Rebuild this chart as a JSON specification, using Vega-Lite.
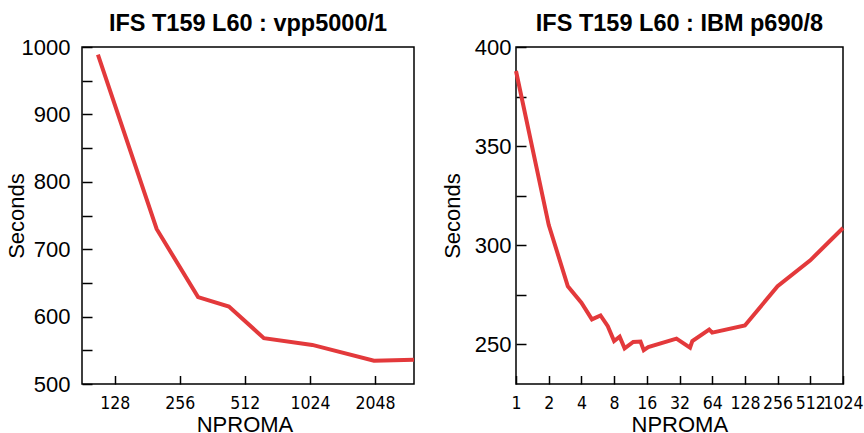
{
  "$schema": "https://vega.github.io/schema/vega-lite/v6.json",
  "autosize": {"type": "pad"},
  "padding": {"left": 4, "top": 10, "right": 0, "bottom": 0},
  "background": "white",
  "bounds": "flush",
  "spacing": 102,
  "datasets": {
    "vpp": [
      {"nproma": 107, "seconds": 988.6},
      {"nproma": 200, "seconds": 730},
      {"nproma": 311, "seconds": 629},
      {"nproma": 432, "seconds": 615},
      {"nproma": 627, "seconds": 568},
      {"nproma": 1050, "seconds": 558},
      {"nproma": 2026, "seconds": 534.6},
      {"nproma": 3104, "seconds": 536}
    ],
    "ibm": [
      {"nproma": 1, "seconds": 387.9},
      {"nproma": 2, "seconds": 310.3},
      {"nproma": 3, "seconds": 279.3},
      {"nproma": 4, "seconds": 271},
      {"nproma": 5, "seconds": 262.6},
      {"nproma": 6, "seconds": 264.6},
      {"nproma": 7, "seconds": 259.2},
      {"nproma": 8, "seconds": 251.7},
      {"nproma": 9, "seconds": 253.9},
      {"nproma": 10, "seconds": 248},
      {"nproma": 12, "seconds": 251.2},
      {"nproma": 14, "seconds": 251.4},
      {"nproma": 15, "seconds": 247.1},
      {"nproma": 16.5, "seconds": 248.6},
      {"nproma": 30, "seconds": 252.9},
      {"nproma": 40, "seconds": 248.3},
      {"nproma": 42, "seconds": 251.7},
      {"nproma": 60, "seconds": 257.5},
      {"nproma": 64, "seconds": 255.9},
      {"nproma": 128, "seconds": 259.5},
      {"nproma": 256, "seconds": 279.3},
      {"nproma": 512, "seconds": 292.4},
      {"nproma": 1024, "seconds": 308.7}
    ]
  },
  "config": {
    "view": {"stroke": "black", "strokeWidth": 1.5},
    "axis": {
      "domain": false,
      "grid": false,
      "tickColor": "black",
      "tickWidth": 1.5,
      "labelColor": "black",
      "titleColor": "black",
      "titleFont": "Liberation Sans",
      "titleFontWeight": "normal",
      "titleFontSize": 22,
      "labelFlush": false,
      "labelOverlap": false,
      "labelBound": false
    }
  },
  "hconcat": [
    {
      "width": 332,
      "height": 337,
      "title": {"text": "IFS T159 L60 : vpp5000/1", "font": "Liberation Sans", "fontSize": 23.5, "fontWeight": "bold", "color": "black", "frame": "group", "anchor": "middle", "baseline": "alphabetic", "offset": 14, "dy": 32},
      "data": {"name": "vpp"},
      "mark": {"type": "line", "color": "#e3393b", "strokeWidth": 4, "strokeJoin": "miter"},
      "encoding": {
        "x": {
          "field": "nproma", "type": "quantitative",
          "scale": {"type": "log", "base": 2, "domain": [90.3, 3104], "nice": false},
          "axis": {"values": [128, 256, 512, 1024, 2048], "format": "d", "title": "NPROMA", "tickSize": -8.5,
                   "labelFont": "DejaVu Sans Condensed", "labelFontSize": 17.5,
                   "labelBaseline": "alphabetic", "labelPadding": 32.5,
                   "titleX": 162.5, "titleY": 47.4, "titleBaseline": "alphabetic", "titleAlign": "center"}
        },
        "y": {
          "field": "seconds", "type": "quantitative",
          "scale": {"domain": [500, 1000], "nice": false, "zero": false},
          "axis": {"values": [500, 550, 600, 650, 700, 750, 800, 850, 900, 950, 1000], "format": "d",
                   "labelExpr": "datum.value % 100 === 0 ? datum.label : ''",
                   "tickSize": -10, "labelFont": "Liberation Sans", "labelFontSize": 22, "labelPadding": 22, "labelBaseline": "middle",
                   "title": "Seconds", "titleX": -59, "titleY": 168.5, "titleAngle": -90, "titleBaseline": "alphabetic", "titleAlign": "center"}
        }
      }
    },
    {
      "width": 327,
      "height": 337,
      "title": {"text": "IFS T159 L60 : IBM p690/8", "font": "Liberation Sans", "fontSize": 23.5, "fontWeight": "bold", "color": "black", "frame": "group", "anchor": "middle", "baseline": "alphabetic", "offset": 14, "dy": 32},
      "data": {"name": "ibm"},
      "mark": {"type": "line", "color": "#e3393b", "strokeWidth": 4, "strokeJoin": "miter"},
      "encoding": {
        "x": {
          "field": "nproma", "type": "quantitative",
          "scale": {"type": "log", "base": 2, "domain": [1, 1024], "nice": false},
          "axis": {"values": [1, 2, 4, 8, 16, 32, 64, 128, 256, 512, 1024], "format": "d", "title": "NPROMA", "tickSize": -8.5,
                   "labelFont": "DejaVu Sans Condensed", "labelFontSize": 17.5,
                   "labelBaseline": "alphabetic", "labelPadding": 32.5,
                   "titleX": 163.3, "titleY": 47.4, "titleBaseline": "alphabetic", "titleAlign": "center"}
        },
        "y": {
          "field": "seconds", "type": "quantitative",
          "scale": {"domain": [230, 400], "nice": false, "zero": false},
          "axis": {"values": [250, 275, 300, 325, 350, 375, 400], "format": "d",
                   "labelExpr": "datum.value % 50 === 0 ? datum.label : ''",
                   "tickSize": -10, "labelFont": "Liberation Sans", "labelFontSize": 22, "labelPadding": 15, "labelBaseline": "middle",
                   "title": "Seconds", "titleX": -56.5, "titleY": 168.5, "titleAngle": -90, "titleBaseline": "alphabetic", "titleAlign": "center"}
        }
      }
    }
  ]
}
